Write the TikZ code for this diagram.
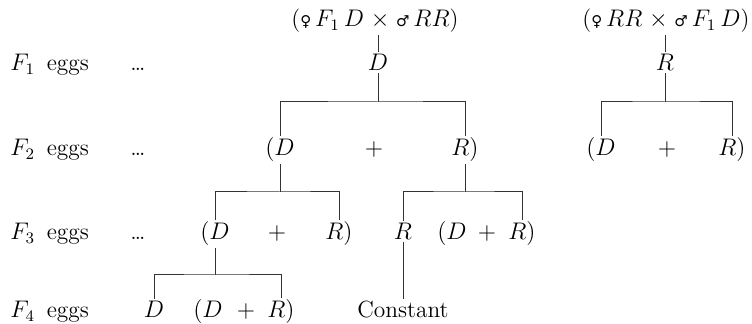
\documentclass[tikz,border=0pt]{standalone}
\usepackage{fontspec}
\newfontfamily\symfont{DejaVu Sans}
\newcommand{\femsym}{{\symfont\fontsize{7.5}{8}\selectfont ♀}}
\newcommand{\malsym}{{\symfont\fontsize{7.5}{8}\selectfont ♂}}
\begin{document}
\begin{tikzpicture}[x=0.5pt,y=-0.5pt,
  font=\fontsize{11.7}{14}\selectfont,
  lab/.style={anchor=base, inner sep=1pt},
  ln/.style={line width=0.5pt, black!80}]
\useasboundingbox (0,0) rectangle (752,324);
% row labels
\node[lab, anchor=base west] (e1) at (8,71) {$F_1$\enspace eggs};
\node[lab, anchor=base west] (e2) at (8,156) {$F_2$\enspace eggs};
\node[lab, anchor=base west] (e3) at (8,240) {$F_3$\enspace eggs};
\node[lab, anchor=base west] (e4) at (8,318) {$F_4$\enspace eggs};
\node[lab] (t1) at (138,71) {\dots};
\node[lab] (t2) at (138,156) {\dots};
\node[lab] (t3) at (138,240) {\dots};
% crosses
\node[lab] (c1) at (375,27) {(\femsym\,$F_1\,D\;\times\;$\malsym\,$RR$)};
\node[lab] (c2) at (666,27) {(\femsym\,$RR\;\times\;$\malsym\,$F_1\,D$)};
% F1
\node[lab] (d1) at (378,71) {$D$};
\node[lab] (r1) at (665,71) {$R$};
% F2
\node[lab] (d2) at (280,156) {$(D$};
\node[lab] (p2) at (374,156) {$+$};
\node[lab] (r2) at (465,156) {$R)$};
\node[lab] (d2b) at (601,156) {$(D$};
\node[lab] (p2b) at (667,156) {$+$};
\node[lab] (r2b) at (732,156) {$R)$};
% F3
\node[lab] (d3) at (215,240) {$(D$};
\node[lab] (p3) at (277,240) {$+$};
\node[lab] (r3) at (339,240) {$R)$};
\node[lab] (s3) at (403,240) {$R$};
\node[lab] (d3b) at (452,240) {$(D$};
\node[lab] (p3b) at (487,240) {$+$};
\node[lab] (r3b) at (522,240) {$R)$};
% F4
\node[lab] (d4) at (154,318) {$D$};
\node[lab] (d4b) at (208,318) {$(D$};
\node[lab] (p4) at (246,318) {$+$};
\node[lab] (r4) at (281,318) {$R)$};
\node[lab] (k4) at (403,318) {Constant};
% bracket levels
\coordinate (y1) at (0,102);
\coordinate (y2) at (0,192);
\coordinate (y3) at (0,275);
\coordinate (j1) at (d1.south |- y1);
\coordinate (j1b) at (r1.south |- y1);
\coordinate (j2) at (d2.south |- y2);
\coordinate (j2b) at (r2.south |- y2);
\coordinate (j3) at (d3.south |- y3);
% connectors
\draw[ln] (c1.south -| d1.north) -- (d1.north);
\draw[ln] (d1.south) -- (j1);
\draw[ln] (d2.north) |- (j1) -| (r2.north);
\draw[ln] (c2.south -| r1.north) -- (r1.north);
\draw[ln] (r1.south) -- (j1b);
\draw[ln] (d2b.north) |- (j1b) -| (r2b.north);
\draw[ln] (d2.south) -- (j2);
\draw[ln] (d3.north) |- (j2) -| (r3.north);
\draw[ln] (r2.south) -- (j2b);
\draw[ln] (s3.north) |- (j2b) -| (r3b.north);
\draw[ln] (d3.south) -- (j3);
\draw[ln] (d4.north) |- (j3) -| (r4.north);
\draw[ln] (s3.south) -- (s3.south |- k4.north);
\end{tikzpicture}
\end{document}
